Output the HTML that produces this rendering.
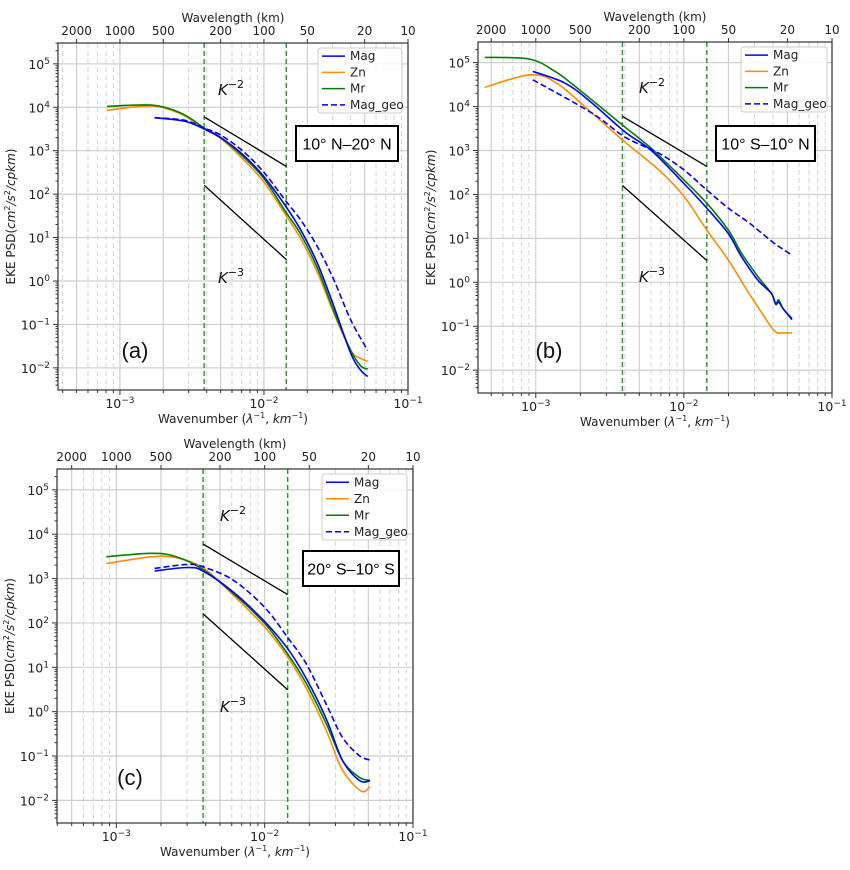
<!DOCTYPE html>
<html><head><meta charset="utf-8"><style>
html,body{margin:0;padding:0;background:#fff;}
svg{display:block;font-family:"DejaVu Sans","Liberation Sans",sans-serif;}
</style></head><body>
<svg id="fig" width="850" height="870" viewBox="0 0 850 870" xmlns="http://www.w3.org/2000/svg"></svg>
<script>
// ===== data (log10 wavenumber, log10 PSD) =====
const aMagX=[-2.76,-2.55,-2.415,-2.3,-2.15,-2.0,-1.855,-1.746,-1.629,-1.514,-1.397,-1.33,-1.28];
const aMagY=[3.76,3.68,3.5,3.3,2.92,2.40,1.75,1.18,0.41,-0.59,-1.67,-2.05,-2.2];
const aZnX=[-3.09,-2.78,-2.60,-2.49,-2.415,-2.3,-2.15,-2.0,-1.855,-1.746,-1.629,-1.514,-1.397,-1.33,-1.28];
const aZnY=[3.93,4.03,3.88,3.68,3.5,3.28,2.82,2.28,1.55,0.98,0.2,-0.75,-1.6,-1.78,-1.85];
const aMrX=[-3.09,-2.78,-2.60,-2.49,-2.415,-2.3,-2.15,-2.0,-1.855,-1.746,-1.629,-1.514,-1.397,-1.33,-1.28];
const aMrY=[4.02,4.05,3.9,3.7,3.52,3.3,2.88,2.36,1.62,1.08,0.3,-0.7,-1.6,-1.95,-2.03];
const aGeoX=[-2.76,-2.55,-2.415,-2.3,-2.15,-2.0,-1.855,-1.746,-1.629,-1.514,-1.397,-1.28];
const aGeoY=[3.76,3.7,3.52,3.36,3.0,2.5,1.87,1.41,0.79,0.02,-0.9,-1.6];

const bMagX=[-3.02,-2.80,-2.62,-2.40,-2.22,-2.0,-1.845,-1.70,-1.61,-1.50,-1.41,-1.38,-1.36,-1.33,-1.27];
const bMagY=[4.8,4.53,4.08,3.43,3.0,2.25,1.69,1.11,0.58,0.05,-0.25,-0.5,-0.45,-0.6,-0.85];
const bZnX=[-3.345,-3.04,-2.86,-2.62,-2.40,-2.17,-2.0,-1.845,-1.70,-1.59,-1.50,-1.39,-1.33,-1.27];
const bZnY=[4.44,4.72,4.54,3.85,3.20,2.56,1.96,1.19,0.51,-0.09,-0.56,-1.1,-1.15,-1.15];
const bMrX=[-3.345,-3.04,-2.87,-2.76,-2.40,-2.22,-2.0,-1.845,-1.70,-1.61,-1.50,-1.41,-1.38,-1.36,-1.33,-1.27];
const bMrY=[5.12,5.08,4.8,4.53,3.54,3.05,2.33,1.80,1.19,0.66,0.13,-0.25,-0.48,-0.4,-0.6,-0.82];
const bGeoX=[-3.02,-2.62,-2.40,-2.17,-2.0,-1.845,-1.70,-1.57,-1.50,-1.39,-1.33,-1.27];
const bGeoY=[4.61,3.85,3.31,2.94,2.56,2.10,1.69,1.38,1.19,0.89,0.75,0.62];

const cMagX=[-2.742,-2.517,-2.41,-2.21,-2.0,-1.847,-1.72,-1.585,-1.475,-1.362,-1.29];
const cMagY=[3.17,3.25,3.16,2.69,2.03,1.43,0.75,-0.16,-1.1,-1.55,-1.56];
const cZnX=[-3.067,-2.764,-2.595,-2.41,-2.21,-2.0,-1.847,-1.72,-1.585,-1.475,-1.35,-1.29];
const cZnY=[3.34,3.49,3.47,3.23,2.62,1.91,1.24,0.53,-0.42,-1.32,-1.79,-1.69];
const cMrX=[-3.067,-2.764,-2.595,-2.41,-2.21,-2.0,-1.847,-1.72,-1.585,-1.475,-1.362,-1.29];
const cMrY=[3.49,3.57,3.49,3.19,2.66,1.99,1.31,0.64,-0.27,-1.10,-1.48,-1.55];
const cGeoX=[-2.742,-2.517,-2.41,-2.21,-2.0,-1.847,-1.72,-1.585,-1.475,-1.362,-1.29];
const cGeoY=[3.23,3.32,3.26,2.96,2.35,1.68,1.08,0.17,-0.58,-0.99,-1.09];

const yTickExp=[-2,-1,0,1,2,3,4,5];
const xTickExp=[-3,-2,-1];
const topTickKm=[2000,1000,500,200,100,50,20,10];
const refK=[1/260,1/70];
const k2Start=6000, k3Start=160;
const legendNames=["Mag","Zn","Mr","Mag_geo"];

const NS="http://www.w3.org/2000/svg";
const svg=document.getElementById('fig');
function el(tag,attrs,parent,text){const e=document.createElementNS(NS,tag);for(const k in attrs)e.setAttribute(k,attrs[k]);if(text!==undefined)e.textContent=text;(parent||svg).appendChild(e);return e;}

const COL={Mag:"#0000ff",Zn:"#ff8c00",Mr:"#008000",Mag_geo:"#0000ff"};

function smoothPath(pts){
  let d='M'+pts[0][0].toFixed(1)+','+pts[0][1].toFixed(1);
  for(let i=0;i<pts.length-1;i++){
    const p0=pts[Math.max(0,i-1)],p1=pts[i],p2=pts[i+1],p3=pts[Math.min(pts.length-1,i+2)];
    const c1=[p1[0]+(p2[0]-p0[0])/6,p1[1]+(p2[1]-p0[1])/6];
    const c2=[p2[0]-(p3[0]-p1[0])/6,p2[1]-(p3[1]-p1[1])/6];
    d+=' C'+c1[0].toFixed(1)+','+c1[1].toFixed(1)+' '+c2[0].toFixed(1)+','+c2[1].toFixed(1)+' '+p2[0].toFixed(1)+','+p2[1].toFixed(1);
  }
  return d;
}

function panel(id,box,xr,yr,series,lab,region,legBox,regBox,labPos,kPos){
  const g=el('g',{});
  
  
  const X=v=>box.L+(v-xr[0])/(xr[1]-xr[0])*(box.R-box.L);
  const Y=v=>box.B-(v-yr[0])/(yr[1]-yr[0])*(box.B-box.T);
  const clip='clip'+id;
  const cp=el('clipPath',{id:clip},g);el('rect',{x:box.L,y:box.T,width:box.R-box.L,height:box.B-box.T},cp);
  for(let e=-4;e<=-1;e++)for(let m=1;m<=9;m++){
    const lv=e+Math.log10(m); if(lv<xr[0]||lv>xr[1]+1e-9)continue;
    const major=(m===1||m===2||m===5);
    const ln=el('line',{x1:X(lv),x2:X(lv),y1:box.T,y2:box.B,stroke:major?"#cfcfcf":"#d6d6d6","stroke-width":major?1.2:1,"stroke-dasharray":major?"":"5,3"},g);
    
    
  }
  for(const e of yTickExp){
    const ln=el('line',{x1:box.L,x2:box.R,y1:Y(e),y2:Y(e),stroke:"#cfcfcf","stroke-width":1.2},g);
    
    
  }
  refK.forEach(k=>{
    const ln=el('line',{x1:X(Math.log10(k)),x2:X(Math.log10(k)),y1:box.T,y2:box.B,stroke:"#2ca02c","stroke-width":1.5,"stroke-dasharray":"5,3"},g);
    
    
  });
  [[k2Start,2],[k3Start,3]].forEach(([s,p])=>{
    const x0=Math.log10(refK[0]),x1=Math.log10(refK[1]);
    const y0=Math.log10(s),y1=y0-p*(x1-x0);
    const ln=el('line',{x1:X(x0),y1:Y(y0),x2:X(x1),y2:Y(y1),stroke:"#000","stroke-width":1.3},g);
    
    
  });
  const order=["Zn","Mr","Mag","Mag_geo"];
  order.forEach(n=>{
    const s=series[n];
    const pts=s[0].map((v,i)=>[X(v),Y(s[1][i])]);
    const p=el('path',{d:smoothPath(pts),fill:"none",stroke:COL[n],"stroke-width":1.6,"clip-path":"url(#"+clip+")","stroke-dasharray":n==="Mag_geo"?"6,3":""},g);
    
    
  });
  const fr=el('rect',{x:box.L,y:box.T,width:box.R-box.L,height:box.B-box.T,fill:"none",stroke:"#333","stroke-width":1.2},g);
  
  
  for(let e=-4;e<=-1;e++)for(let m=1;m<=9;m++){
    const lv=e+Math.log10(m); if(lv<xr[0]||lv>xr[1]+1e-9)continue;
    const len=m===1?5:3;
    el('line',{x1:X(lv),x2:X(lv),y1:box.B,y2:box.B+len,stroke:"#333"},g);
  }
  xTickExp.forEach(e=>{
    const t=el('text',{x:X(e),y:box.B+18,"text-anchor":"middle","font-size":12.5,fill:"#222"},g);
    
    
    t.appendChild(document.createTextNode('10'));
    el('tspan',{dy:-5,"font-size":9},t,'\u2212'+(-e));
  });
  topTickKm.forEach(km=>{
    const lv=Math.log10(1/km);
    el('line',{x1:X(lv),x2:X(lv),y1:box.T,y2:box.T-4,stroke:"#333"},g);
    const t=el('text',{x:X(lv),y:box.T-8,"text-anchor":"middle","font-size":12,fill:"#222"},g,String(km));
    
    
  });
  for(let e=-3;e<=5;e++)for(let m=1;m<=9;m++){
    const lv=e+Math.log10(m); if(lv<yr[0]||lv>yr[1])continue;
    el('line',{x1:box.L,x2:box.L-(m===1?5:2.5),y1:Y(lv),y2:Y(lv),stroke:"#333"},g);
  }
  yTickExp.forEach(e=>{
    const t=el('text',{x:box.L-8,y:Y(e)+5,"text-anchor":"end","font-size":12.5,fill:"#222"},g);
    
    
    t.appendChild(document.createTextNode('10'));
    el('tspan',{dy:-5,"font-size":9},t,e<0?'\u2212'+(-e):String(e));
  });
  const cx=(box.L+box.R)/2;
  let t=el('text',{x:cx,y:box.T-21,"text-anchor":"middle","font-size":12,fill:"#222"},g,'Wavelength (km)');
  
  t=el('text',{x:cx,y:box.B+33,"text-anchor":"middle","font-size":12,fill:"#222"},g);
  
  t.innerHTML='Wavenumber (<tspan font-style="italic">λ</tspan><tspan dy="-5" font-size="8">−1</tspan><tspan dy="5">, </tspan><tspan font-style="italic">km</tspan><tspan dy="-5" font-size="8">−1</tspan><tspan dy="5">)</tspan>';
  const cy=(box.T+box.B)/2;
  t=el('text',{x:0,y:0,"text-anchor":"middle","font-size":12,fill:"#222",transform:`translate(${box.L-43},${cy}) rotate(-90)`},g);
  
  t.innerHTML='EKE PSD(<tspan font-style="italic">cm</tspan><tspan dy="-5" font-size="8">2</tspan><tspan dy="5" font-style="italic">/s</tspan><tspan dy="-5" font-size="8">2</tspan><tspan dy="5" font-style="italic">/cpkm</tspan>)';
  [[kPos[0],'2'],[kPos[1],'3']].forEach(([p,n])=>{
    const tt=el('text',{x:p[0],y:p[1],"font-size":15,fill:"#111"},g);
    
    tt.innerHTML='<tspan font-style="italic">K</tspan><tspan dy="-7" font-size="11">−'+n+'</tspan>';
  });
  t=el('text',{x:labPos[0],y:labPos[1],"text-anchor":"middle","font-size":22,fill:"#111","font-family":"Liberation Sans, sans-serif"},g,lab);
  
  const rb=el('rect',{x:regBox[0],y:regBox[1],width:regBox[2]-regBox[0],height:regBox[3]-regBox[1],fill:"#fff",stroke:"#000","stroke-width":2},g);
  
  t=el('text',{x:(regBox[0]+regBox[2])/2,y:(regBox[1]+regBox[3])/2+6,"text-anchor":"middle","font-size":16,fill:"#000","font-family":"Liberation Sans, sans-serif"},g,region);
  
  const lg=el('g',{},g);
  
  el('rect',{x:legBox[0],y:legBox[1],width:legBox[2]-legBox[0],height:legBox[3]-legBox[1],fill:"#fff","fill-opacity":0.85,stroke:"#ccc",rx:3},lg);
  const stepY=(legBox[3]-legBox[1])/4;
  legendNames.forEach((n,i)=>{
    const yy=legBox[1]+stepY*(i+0.5);
    const li=el('line',{x1:legBox[0]+4,x2:legBox[0]+27,y1:yy,y2:yy,stroke:COL[n],"stroke-width":1.6,"stroke-dasharray":n==="Mag_geo"?"6,3":""},lg);
    
    
    const tx=el('text',{x:legBox[0]+32,y:yy+4,"font-size":12,fill:"#222"},lg,n);
    
    
  });
}

panel('a',{L:58,R:408,T:43,B:390},[-3.43,-1],[-2.51,5.48],
  {Mag:[aMagX,aMagY],Zn:[aZnX,aZnY],Mr:[aMrX,aMrY],Mag_geo:[aGeoX,aGeoY]},
  '(a)','10° N–20° N',[318,48,402,113],[296,126,398,161],[135,358],[[218,95],[218,283]]);
panel('b',{L:478,R:832,T:42,B:393},[-3.39,-1],[-2.52,5.47],
  {Mag:[bMagX,bMagY],Zn:[bZnX,bZnY],Mr:[bMrX,bMrY],Mag_geo:[bGeoX,bGeoY]},
  '(b)','10° S–10° N',[741,47,827,112],[716,126,815,161],[549,358],[[639,93],[639,282]]);
panel('c',{L:57,R:413,T:469,B:823},[-3.40,-1],[-2.51,5.47],
  {Mag:[cMagX,cMagY],Zn:[cZnX,cZnY],Mr:[cMrX,cMrY],Mag_geo:[cGeoX,cGeoY]},
  '(c)','20° S–10° S',[322,474,407,540],[303,551,399,586],[130,785],[[220,521],[220,712]]);
</script>
</body></html>
